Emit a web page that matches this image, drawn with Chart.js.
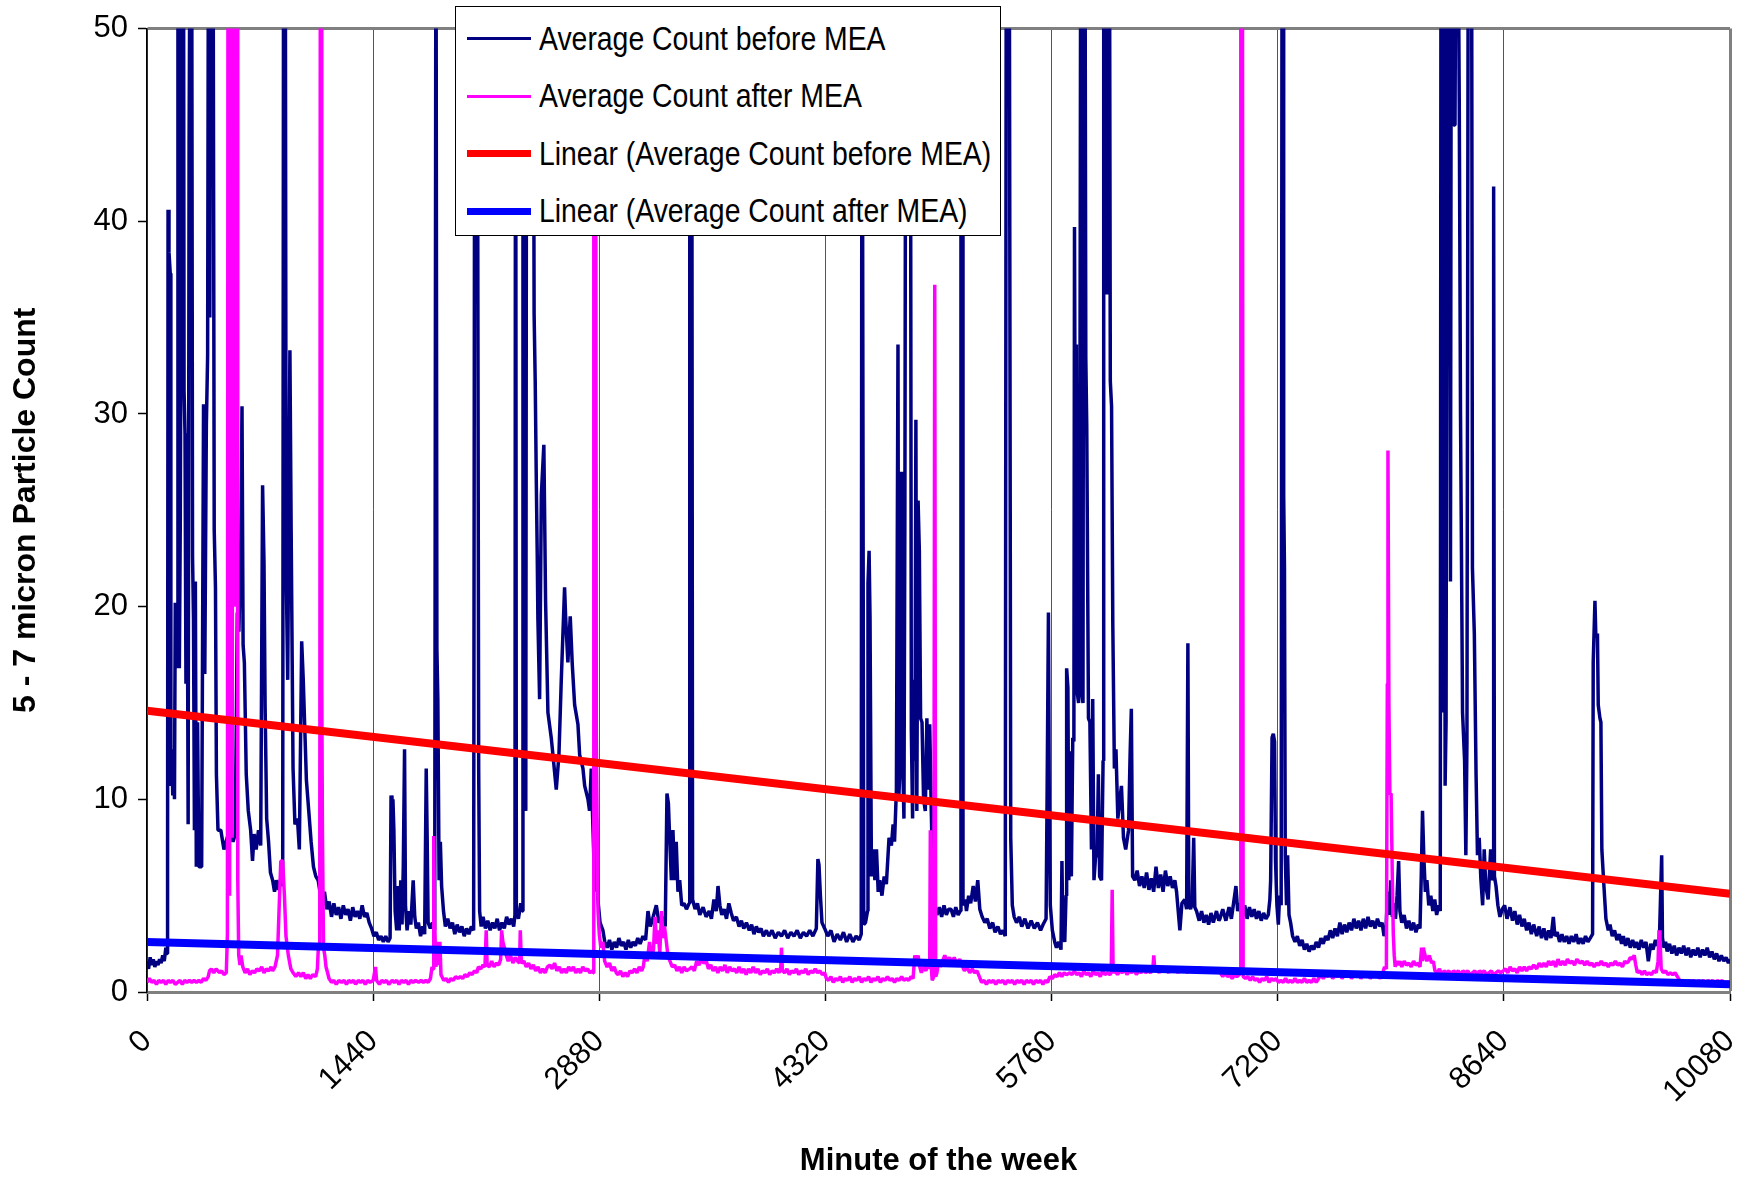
<!DOCTYPE html>
<html>
<head>
<meta charset="utf-8">
<script src="https://cdn.jsdelivr.net/npm/chart.js@4.4.1/dist/chart.umd.min.js"></script>
<style>
body { margin: 0; background: #fff; }
#wrap { position: relative; width: 1748px; height: 1182px; }
#legendBox {
  position: absolute; left: 455px; top: 6px; width: 546px; height: 230px;
  box-sizing: border-box; border: 1px solid #000; background: #fff; padding-top: 3px;
  font-family: "Liberation Sans", Arial, sans-serif;
  font-size: 33px; color: #000; overflow: hidden;
}
.row { display: flex; align-items: center; height: 57.5px; white-space: nowrap; }
.swatch { flex: 0 0 64px; margin-left: 11px; margin-right: 8px; }
.label { display: inline-block; transform: scaleX(0.86); transform-origin: left center; }
</style>
</head>
<body>
<div id="wrap">
  <canvas id="chart" width="1748" height="1182"></canvas>
  <div id="legendBox"></div>
</div>
<script>
// minute of the week, 0..10080, with x ticks every day
const xTicks = [0, 1440, 2880, 4320, 5760, 7200, 8640, 10080];
const yTicks = [0, 10, 20, 30, 40, 50];

const seriesNames = ["Average Count before MEA", "Average Count after MEA",
  "Linear (Average Count before MEA)", "Linear (Average Count after MEA)"];

// [minute, count]  (values above 50 run off the top of the plot)
const beforeMEA = [
  [0,1.6],[10,1.2],[20,1.8],[30,1.4],[40,1.7],[50,1.3],[60,1.6],[70,1.4],[80,1.7],[90,1.5],[100,1.9],[110,1.6],[120,2.3],[128,2.0],[131,6.0],[134,40.6],[140,38.4],[148,37.3],[152,10.7],[158,12.6],[164,10.2],[170,12.4],[175,10.0],[180,20.2],[186,16.8],[192,20.0],[197,60],[200,60],[206,16.8],[212,24.5],[226,60],[232,60],[236,31.2],[242,29.0],[248,16.0],[254,28.5],[262,8.7],[268,44.0],[276,60],[284,60],[290,22.6],[296,19.4],[302,8.4],[308,21.3],[314,6.5],[322,14.0],[330,6.5],[348,6.5],[360,30.5],[368,16.5],[378,29.4],[386,33.0],[392,60],[400,35.0],[406,60],[420,60],[428,24.0],[436,21.0],[442,11.3],[452,8.4],[470,8.4],[490,7.4],[510,8.0],[530,8.4],[548,7.8],[562,8.2],[575,19.7],[585,18.7],[598,23.6],[605,30.4],[612,18.0],[620,17.1],[632,11.3],[645,9.4],[660,8.4],[672,6.8],[682,8.2],[695,7.4],[710,8.4],[724,7.6],[736,26.3],[745,22.3],[752,14.9],[762,9.0],[774,7.8],[786,6.2],[800,5.8],[812,5.2],[824,5.8],[838,5.3],[852,5.9],[864,5.5],[870,60],[880,60],[886,22.0],[896,16.2],[910,33.3],[918,23.9],[930,11.6],[942,8.7],[958,9.0],[970,7.4],[985,18.2],[995,16.2],[1005,13.6],[1015,11.0],[1030,9.4],[1045,7.8],[1060,6.5],[1075,6.0],[1090,5.8],[1105,5.0],[1118,4.5],[1130,5.2],[1145,4.3],[1160,4.7],[1175,3.9],[1190,4.6],[1205,4.0],[1220,4.4],[1235,3.8],[1250,4.5],[1265,4.0],[1280,4.3],[1295,3.7],[1310,4.4],[1325,3.9],[1340,4.2],[1355,3.8],[1370,4.5],[1385,3.9],[1400,4.1],[1415,3.6],[1430,3.3],[1445,2.9],[1460,3.1],[1475,2.7],[1490,2.9],[1505,2.6],[1520,2.9],[1535,2.6],[1548,2.8],[1554,10.2],[1560,9.6],[1566,10.0],[1572,8.4],[1580,4.2],[1590,3.2],[1598,5.5],[1606,3.2],[1616,5.8],[1624,3.5],[1632,6.5],[1640,12.6],[1646,4.5],[1656,3.2],[1668,4.2],[1680,3.5],[1695,5.8],[1705,3.9],[1715,3.3],[1728,3.6],[1742,2.9],[1756,3.4],[1768,3.0],[1778,11.6],[1784,8.0],[1790,3.6],[1804,3.3],[1818,3.6],[1832,3.2],[1840,60],[1846,17.8],[1852,15.2],[1860,5.8],[1868,7.8],[1876,5.5],[1888,4.2],[1900,3.4],[1915,3.8],[1930,3.3],[1945,3.6],[1960,3.0],[1975,3.5],[1990,3.1],[2005,3.4],[2020,2.9],[2035,3.3],[2050,3.0],[2065,3.4],[2080,3.2],[2088,60],[2096,60],[2102,60],[2106,60],[2112,11.6],[2118,4.2],[2128,3.4],[2140,3.9],[2155,3.3],[2170,3.7],[2185,3.2],[2200,3.6],[2215,3.3],[2230,3.8],[2245,3.2],[2260,3.6],[2275,3.3],[2290,3.9],[2305,3.5],[2320,3.8],[2335,3.4],[2343,4.0],[2347,60],[2352,4.2],[2365,3.8],[2380,4.6],[2390,4.2],[2394,60],[2404,15.5],[2412,9.4],[2418,60],[2440,60],[2458,60],[2465,35.2],[2472,31.7],[2479,26.5],[2485,22.6],[2489,19.4],[2500,15.2],[2511,25.8],[2527,28.4],[2538,20.3],[2553,14.5],[2574,13.2],[2585,12.3],[2606,10.5],[2623,12.3],[2638,16.2],[2659,21.0],[2666,19.4],[2680,17.1],[2695,19.5],[2708,17.0],[2723,14.9],[2744,13.9],[2755,12.3],[2776,11.6],[2787,10.7],[2808,10.0],[2818,9.4],[2829,11.6],[2840,8.4],[2852,5.2],[2862,9.0],[2871,4.8],[2885,3.6],[2903,3.2],[2915,2.6],[2930,2.3],[2945,2.7],[2960,2.2],[2975,2.6],[2990,2.3],[3005,2.8],[3020,2.4],[3035,2.6],[3050,2.2],[3065,2.7],[3080,2.3],[3095,2.6],[3110,2.4],[3125,2.8],[3140,2.5],[3158,2.9],[3175,2.7],[3190,4.2],[3205,3.4],[3220,3.8],[3243,4.5],[3260,3.6],[3280,3.9],[3300,3.4],[3311,10.3],[3320,9.8],[3328,8.0],[3339,5.8],[3349,8.4],[3360,5.8],[3370,7.8],[3381,5.2],[3392,5.8],[3405,4.5],[3420,4.6],[3435,4.3],[3452,4.6],[3456,60],[3462,60],[3468,60],[3474,4.8],[3490,4.3],[3505,4.6],[3520,4.0],[3541,4.4],[3560,3.9],[3580,4.2],[3594,3.8],[3610,4.8],[3625,4.2],[3636,5.5],[3648,4.5],[3660,4.0],[3675,4.3],[3690,3.8],[3705,4.6],[3720,4.1],[3735,3.7],[3753,3.9],[3770,3.4],[3785,3.7],[3800,3.3],[3817,3.6],[3835,3.2],[3850,3.5],[3865,3.0],[3880,3.4],[3895,3.1],[3910,3.3],[3925,2.9],[3944,3.2],[3960,2.9],[3980,3.2],[4000,2.8],[4020,3.1],[4040,2.9],[4060,3.2],[4080,2.8],[4100,3.1],[4120,2.9],[4140,3.2],[4160,2.8],[4180,3.1],[4200,2.9],[4220,3.2],[4240,2.9],[4262,3.3],[4272,6.9],[4279,6.6],[4288,5.0],[4298,3.6],[4315,3.3],[4335,2.9],[4355,3.2],[4375,2.6],[4395,3.0],[4415,2.7],[4435,3.1],[4455,2.6],[4475,3.0],[4495,2.6],[4515,2.9],[4535,2.7],[4548,3.0],[4553,60],[4558,60],[4564,3.5],[4575,3.6],[4588,4.2],[4591,21.2],[4598,22.9],[4604,19.4],[4613,6.0],[4624,7.4],[4635,5.8],[4645,7.4],[4656,5.2],[4666,5.8],[4680,5.0],[4694,6.0],[4708,5.6],[4725,8.0],[4740,7.6],[4751,8.7],[4760,7.8],[4772,10.5],[4782,33.6],[4787,10.0],[4796,12.0],[4804,27.0],[4812,12.0],[4820,9.0],[4826,25.0],[4833,60],[4845,60],[4853,60],[4860,60],[4867,13.6],[4875,9.0],[4882,16.2],[4890,12.0],[4896,29.7],[4902,9.4],[4910,25.5],[4918,22.9],[4926,14.2],[4935,14.0],[4945,10.0],[4956,9.4],[4966,14.2],[4975,10.5],[4984,13.9],[4994,9.4],[5004,5.8],[5015,4.5],[5030,4.0],[5045,4.4],[5060,3.9],[5075,4.5],[5090,4.0],[5105,4.3],[5120,4.3],[5135,3.9],[5150,4.4],[5165,4.0],[5178,4.2],[5183,60],[5190,60],[5196,4.5],[5210,4.8],[5218,4.2],[5232,5.0],[5245,4.6],[5261,5.5],[5275,4.7],[5290,5.8],[5303,4.3],[5318,3.9],[5335,3.6],[5350,3.8],[5367,3.3],[5385,3.6],[5400,3.1],[5418,3.4],[5435,3.0],[5450,3.2],[5465,2.9],[5472,60],[5480,60],[5490,60],[5500,8.0],[5510,4.5],[5522,3.9],[5537,3.6],[5555,3.9],[5570,3.4],[5590,3.8],[5610,3.3],[5630,3.7],[5650,3.3],[5670,3.6],[5690,3.2],[5706,3.5],[5725,3.8],[5732,10.7],[5740,19.7],[5746,9.0],[5752,4.5],[5765,3.2],[5780,2.6],[5791,2.3],[5805,2.6],[5820,2.2],[5826,6.8],[5832,3.0],[5844,2.6],[5852,5.0],[5856,16.8],[5864,15.8],[5870,5.8],[5878,12.5],[5886,6.0],[5895,13.2],[5902,13.0],[5906,39.7],[5912,23.0],[5918,33.6],[5924,15.5],[5932,15.0],[5940,25.0],[5946,60],[5952,15.5],[5960,15.0],[5966,60],[5972,60],[5978,32.9],[5984,29.4],[5995,14.2],[6004,14.0],[6014,7.4],[6022,15.2],[6030,5.8],[6040,7.0],[6050,7.1],[6058,11.3],[6066,6.0],[6078,5.8],[6088,12.0],[6092,60],[6100,60],[6108,60],[6114,36.2],[6122,60],[6128,60],[6134,31.7],[6142,30.4],[6150,19.0],[6160,11.6],[6170,12.6],[6182,9.0],[6195,10.0],[6205,10.7],[6218,8.0],[6232,7.4],[6250,8.4],[6260,12.3],[6268,14.7],[6276,6.0],[6290,5.8],[6305,6.3],[6320,5.5],[6335,6.0],[6350,5.4],[6365,6.2],[6380,5.3],[6395,5.9],[6410,5.2],[6425,6.5],[6440,5.4],[6455,6.1],[6470,5.2],[6485,6.3],[6500,5.5],[6515,6.0],[6530,5.4],[6545,5.8],[6556,5.2],[6577,3.2],[6590,4.6],[6608,4.8],[6620,4.3],[6628,18.1],[6634,4.5],[6645,4.3],[6655,4.6],[6665,8.0],[6672,4.4],[6683,4.2],[6700,3.7],[6715,4.2],[6730,3.6],[6745,4.0],[6760,3.5],[6775,4.1],[6790,3.6],[6810,4.2],[6825,3.7],[6832,3.8],[6850,4.3],[6870,3.7],[6890,4.4],[6905,3.8],[6917,4.5],[6934,5.5],[6945,4.2],[6960,4.6],[6975,3.9],[6990,4.5],[7005,3.8],[7020,4.4],[7035,3.9],[7050,4.3],[7065,3.8],[7080,4.2],[7095,3.7],[7110,4.1],[7125,3.8],[7140,4.0],[7150,4.8],[7155,5.8],[7164,13.2],[7172,13.4],[7180,13.0],[7186,6.8],[7195,4.5],[7204,3.5],[7212,5.0],[7222,4.5],[7228,60],[7234,60],[7238,25.8],[7243,22.0],[7248,7.1],[7256,4.5],[7263,7.1],[7272,4.0],[7282,3.6],[7295,2.9],[7310,2.6],[7325,2.9],[7340,2.4],[7355,2.7],[7370,2.2],[7385,2.5],[7400,2.1],[7415,2.4],[7430,2.2],[7445,2.6],[7460,2.3],[7475,2.8],[7490,2.5],[7505,2.9],[7520,2.7],[7535,3.2],[7550,2.8],[7565,3.3],[7580,2.9],[7596,3.6],[7610,3.0],[7625,3.5],[7640,3.1],[7655,3.6],[7670,3.2],[7685,3.8],[7700,3.3],[7715,3.7],[7730,3.2],[7745,3.8],[7760,3.3],[7775,3.9],[7790,3.4],[7805,3.7],[7820,3.3],[7835,3.8],[7851,3.4],[7865,3.6],[7877,2.9],[7890,3.4],[7900,5.2],[7910,4.0],[7920,5.8],[7930,3.9],[7940,4.6],[7950,3.8],[7960,5.0],[7970,6.8],[7978,4.2],[7990,3.6],[8005,4.0],[8020,3.3],[8035,3.7],[8050,3.2],[8065,3.6],[8080,3.1],[8095,3.5],[8106,3.3],[8114,6.0],[8122,9.4],[8130,7.1],[8140,5.2],[8150,5.8],[8162,4.5],[8175,5.0],[8188,4.2],[8200,4.8],[8212,4.0],[8225,4.5],[8235,4.2],[8240,60],[8246,14.5],[8252,60],[8260,60],[8266,10.7],[8272,14.0],[8280,60],[8292,60],[8300,21.3],[8306,60],[8314,60],[8320,45.0],[8329,45.0],[8336,60],[8346,60],[8356,46.2],[8364,30.0],[8377,14.5],[8390,12.0],[8398,7.1],[8405,13.0],[8414,60],[8426,60],[8434,60],[8440,22.0],[8452,18.6],[8463,11.3],[8472,7.1],[8483,8.0],[8494,5.8],[8505,4.5],[8515,7.4],[8525,5.5],[8540,4.8],[8556,7.4],[8565,5.8],[8571,6.0],[8575,41.8],[8580,6.0],[8590,5.5],[8602,4.5],[8615,3.9],[8630,4.3],[8645,4.5],[8660,3.8],[8679,4.4],[8695,3.7],[8710,4.2],[8725,3.5],[8740,4.0],[8755,3.4],[8770,3.8],[8785,3.2],[8800,3.6],[8815,3.0],[8830,3.5],[8849,2.9],[8865,3.4],[8880,2.8],[8895,3.3],[8910,2.7],[8925,3.2],[8940,2.8],[8955,3.9],[8965,2.9],[8980,3.1],[8995,2.6],[9010,3.0],[9025,2.6],[9040,2.9],[9055,2.5],[9070,2.9],[9085,2.6],[9100,3.0],[9115,2.5],[9130,2.8],[9145,2.5],[9160,2.9],[9175,2.6],[9190,2.8],[9205,3.0],[9209,17.1],[9220,20.3],[9226,18.4],[9236,18.6],[9241,14.9],[9252,14.2],[9258,14.0],[9264,7.4],[9275,5.8],[9290,3.8],[9305,3.2],[9316,3.5],[9330,2.9],[9345,3.2],[9360,2.7],[9375,3.0],[9390,2.5],[9401,2.9],[9415,2.4],[9430,2.8],[9445,2.3],[9460,2.7],[9475,2.3],[9485,2.6],[9500,2.2],[9515,2.7],[9530,2.3],[9545,2.6],[9560,1.6],[9575,2.5],[9590,2.2],[9605,2.7],[9618,2.4],[9630,2.6],[9645,7.1],[9650,2.8],[9660,2.3],[9670,2.6],[9680,2.1],[9695,2.5],[9710,2.0],[9725,2.4],[9740,1.9],[9755,2.3],[9770,2.0],[9785,2.4],[9800,1.9],[9815,2.3],[9830,1.8],[9845,2.2],[9860,1.9],[9875,2.3],[9890,1.8],[9905,2.2],[9920,1.9],[9935,2.3],[9950,1.8],[9965,2.1],[9980,1.7],[9995,2.0],[10010,1.6],[10025,1.9],[10040,1.6],[10055,1.8],[10070,1.5],[10080,1.7]
];

const afterMEA = [
  [0,0.5],[15,0.7],[30,0.5],[45,0.6],[60,0.4],[75,0.6],[90,0.5],[105,0.6],[120,0.4],[135,0.6],[150,0.5],[165,0.6],[180,0.4],[195,0.5],[210,0.6],[225,0.4],[240,0.6],[255,0.5],[270,0.6],[285,0.5],[300,0.6],[315,0.5],[330,0.6],[345,0.5],[360,0.7],[375,0.6],[390,0.8],[398,1.1],[410,1.2],[425,1.0],[440,1.2],[461,1.0],[475,1.1],[490,0.9],[505,1.0],[512,3.0],[516,60],[522,60],[526,5.0],[530,60],[536,60],[542,8.0],[548,60],[556,60],[562,20.0],[568,60],[574,60],[578,5.8],[584,1.9],[592,1.4],[599,1.9],[610,1.3],[625,1.0],[640,1.2],[655,0.9],[670,1.1],[685,1.0],[700,1.2],[715,1.1],[730,1.3],[745,1.0],[760,1.2],[775,1.1],[790,1.3],[800,1.1],[815,1.3],[831,1.9],[842,4.5],[852,6.8],[864,6.8],[875,5.0],[885,2.9],[900,1.9],[916,1.2],[930,1.0],[948,0.8],[965,1.0],[980,0.8],[995,1.0],[1011,0.7],[1025,0.9],[1040,0.7],[1055,0.9],[1074,0.8],[1085,1.2],[1091,2.3],[1100,2.4],[1104,60],[1110,60],[1113,15.8],[1117,8.4],[1124,2.3],[1132,1.9],[1140,1.3],[1150,1.0],[1159,0.7],[1175,0.5],[1190,0.6],[1205,0.4],[1222,0.6],[1240,0.5],[1255,0.6],[1270,0.4],[1285,0.6],[1300,0.5],[1315,0.6],[1328,0.4],[1345,0.6],[1360,0.5],[1375,0.6],[1390,0.4],[1405,0.6],[1420,0.5],[1440,0.6],[1455,1.3],[1462,0.6],[1480,0.4],[1495,0.6],[1510,0.5],[1525,0.6],[1540,0.4],[1561,0.6],[1575,0.5],[1590,0.6],[1605,0.4],[1620,0.6],[1635,0.5],[1650,0.6],[1665,0.4],[1680,0.6],[1695,0.5],[1710,0.6],[1730,0.5],[1745,0.6],[1760,0.5],[1775,0.6],[1790,0.5],[1805,0.7],[1815,1.3],[1822,1.2],[1826,8.1],[1832,3.5],[1840,1.3],[1848,2.6],[1856,1.4],[1865,2.6],[1872,0.9],[1890,0.6],[1905,0.7],[1920,0.5],[1935,0.7],[1950,0.6],[1965,0.8],[1980,0.7],[1995,0.8],[2010,0.7],[2025,0.9],[2040,0.8],[2055,1.0],[2070,0.9],[2085,1.1],[2100,1.0],[2110,1.3],[2125,1.2],[2140,1.4],[2152,1.3],[2160,3.2],[2166,1.4],[2180,1.3],[2195,1.6],[2210,1.3],[2225,1.5],[2240,1.4],[2252,1.7],[2258,3.2],[2266,2.6],[2276,2.3],[2288,1.9],[2300,1.6],[2315,1.9],[2330,1.5],[2345,1.8],[2360,1.6],[2372,1.5],[2377,3.2],[2384,1.5],[2400,1.6],[2415,1.3],[2430,1.5],[2445,1.2],[2460,1.4],[2475,1.1],[2490,1.3],[2505,1.0],[2520,1.2],[2535,1.0],[2550,1.3],[2565,1.4],[2580,1.2],[2595,1.5],[2610,1.1],[2625,1.3],[2640,1.0],[2655,1.2],[2670,1.0],[2685,1.3],[2700,1.1],[2715,1.3],[2730,1.0],[2745,1.2],[2760,1.0],[2775,1.3],[2790,1.1],[2805,1.2],[2820,1.0],[2835,1.1],[2842,1.0],[2845,60],[2852,60],[2856,60],[2861,13.2],[2866,9.0],[2872,4.2],[2880,3.0],[2890,2.3],[2903,2.6],[2914,1.6],[2930,1.3],[2945,1.5],[2960,1.1],[2975,1.3],[2988,1.0],[3000,0.9],[3015,1.1],[3030,0.8],[3045,1.0],[3060,0.8],[3075,1.1],[3090,1.0],[3105,1.2],[3120,1.0],[3135,1.3],[3150,1.1],[3160,1.3],[3170,1.9],[3185,1.6],[3200,2.6],[3212,1.8],[3225,2.2],[3235,3.9],[3245,2.5],[3255,3.2],[3265,2.0],[3277,4.2],[3285,2.8],[3295,3.4],[3307,2.6],[3317,1.9],[3330,1.6],[3345,1.3],[3360,1.4],[3375,1.1],[3390,1.3],[3405,1.0],[3420,1.3],[3435,1.1],[3455,1.2],[3470,1.3],[3485,1.1],[3500,1.6],[3515,1.4],[3530,1.7],[3545,1.5],[3562,1.6],[3575,1.2],[3590,1.4],[3605,1.1],[3620,1.3],[3635,1.0],[3650,1.3],[3665,1.1],[3680,1.4],[3695,1.0],[3710,1.3],[3725,1.1],[3740,1.2],[3755,1.0],[3770,1.3],[3785,1.0],[3800,1.2],[3815,0.9],[3830,1.2],[3845,1.0],[3860,1.3],[3875,1.0],[3890,1.2],[3905,0.9],[3920,1.1],[3935,1.0],[3950,1.2],[3965,0.9],[3980,1.1],[3995,1.0],[4010,1.2],[4025,1.0],[4036,1.3],[4040,2.3],[4046,1.1],[4060,1.0],[4075,1.2],[4090,0.9],[4105,1.1],[4120,1.0],[4135,1.2],[4150,0.9],[4165,1.1],[4180,1.0],[4195,1.2],[4210,0.9],[4225,1.1],[4240,1.0],[4255,1.2],[4270,1.0],[4285,1.1],[4300,0.9],[4315,1.0],[4326,0.7],[4340,0.6],[4355,0.8],[4370,0.5],[4385,0.7],[4400,0.6],[4415,0.8],[4430,0.5],[4445,0.7],[4460,0.6],[4475,0.8],[4490,0.5],[4505,0.7],[4520,0.6],[4535,0.8],[4550,0.5],[4565,0.7],[4580,0.6],[4595,0.8],[4610,0.5],[4625,0.7],[4640,0.6],[4655,0.8],[4670,0.5],[4685,0.7],[4700,0.6],[4715,0.8],[4730,0.6],[4745,0.7],[4760,0.5],[4775,0.7],[4790,0.6],[4805,0.8],[4820,0.6],[4835,0.7],[4850,0.6],[4865,0.8],[4878,0.7],[4889,1.9],[4898,1.5],[4910,1.9],[4921,1.3],[4931,1.0],[4945,1.3],[4960,1.1],[4975,1.6],[4984,1.2],[4988,8.4],[4993,1.4],[5000,0.6],[5010,0.8],[5016,36.7],[5022,0.8],[5030,1.0],[5040,1.6],[5052,1.3],[5065,1.6],[5080,1.9],[5095,1.6],[5110,1.8],[5125,1.5],[5140,1.8],[5155,1.5],[5175,1.7],[5190,1.4],[5205,1.1],[5220,1.3],[5239,1.0],[5255,1.2],[5270,1.0],[5285,1.1],[5300,0.8],[5314,0.5],[5330,0.6],[5345,0.4],[5360,0.6],[5375,0.5],[5390,0.6],[5405,0.4],[5420,0.6],[5435,0.5],[5450,0.6],[5465,0.4],[5480,0.6],[5495,0.5],[5510,0.6],[5525,0.4],[5540,0.6],[5555,0.5],[5570,0.6],[5585,0.4],[5600,0.6],[5615,0.5],[5630,0.6],[5645,0.4],[5660,0.6],[5675,0.5],[5690,0.6],[5705,0.4],[5720,0.6],[5735,0.5],[5749,0.8],[5765,0.7],[5780,0.9],[5795,0.8],[5810,1.0],[5825,0.8],[5840,1.0],[5855,0.9],[5876,1.0],[5890,0.9],[5905,1.1],[5920,0.9],[5935,1.0],[5950,0.8],[5965,1.1],[5980,0.9],[5995,1.0],[6010,0.8],[6025,1.1],[6040,0.9],[6055,1.0],[6070,0.8],[6085,1.1],[6100,0.9],[6115,1.0],[6131,0.9],[6140,1.0],[6146,5.3],[6152,1.0],[6165,1.1],[6180,0.9],[6195,1.1],[6210,1.0],[6225,1.2],[6240,0.9],[6255,1.1],[6270,1.0],[6285,1.2],[6300,0.9],[6315,1.1],[6330,1.0],[6345,1.2],[6360,1.0],[6375,1.1],[6390,1.0],[6405,1.2],[6411,1.9],[6418,1.1],[6430,1.2],[6445,1.0],[6460,1.3],[6475,1.1],[6490,1.2],[6505,1.0],[6520,1.3],[6535,1.1],[6550,1.2],[6565,1.0],[6580,1.3],[6595,1.1],[6610,1.2],[6625,1.0],[6640,1.3],[6655,1.1],[6670,1.2],[6685,1.0],[6700,1.3],[6715,1.1],[6730,1.2],[6745,1.0],[6760,1.2],[6775,1.1],[6790,1.2],[6805,1.0],[6820,1.1],[6835,1.0],[6850,0.8],[6865,1.0],[6880,0.8],[6895,0.9],[6910,0.7],[6925,0.9],[6940,0.8],[6955,0.9],[6962,1.0],[6965,60],[6970,60],[6975,60],[6980,0.8],[6995,0.7],[7010,0.8],[7025,0.6],[7040,0.8],[7055,0.6],[7070,0.7],[7085,0.5],[7100,0.7],[7115,0.6],[7130,0.8],[7145,0.5],[7160,0.7],[7175,0.6],[7190,0.7],[7205,0.5],[7220,0.6],[7235,0.5],[7250,0.7],[7265,0.5],[7280,0.6],[7295,0.5],[7310,0.7],[7325,0.5],[7340,0.6],[7355,0.5],[7370,0.7],[7385,0.5],[7400,0.6],[7415,0.5],[7430,0.7],[7445,0.5],[7460,0.7],[7475,0.9],[7490,0.7],[7505,0.9],[7520,0.8],[7535,1.0],[7550,0.7],[7565,0.9],[7580,0.8],[7595,1.0],[7610,0.7],[7625,0.9],[7640,0.8],[7655,1.0],[7670,0.7],[7685,0.9],[7700,0.8],[7715,1.0],[7730,0.7],[7745,0.9],[7760,0.8],[7775,1.0],[7790,0.7],[7805,0.9],[7820,0.8],[7835,1.0],[7850,0.7],[7865,0.9],[7880,1.3],[7892,1.2],[7898,16.0],[7902,28.1],[7908,15.0],[7914,10.3],[7922,10.3],[7930,5.8],[7936,3.0],[7942,1.9],[7948,1.3],[7956,1.6],[7966,1.4],[7978,1.6],[7990,1.3],[8005,1.6],[8020,1.4],[8035,1.5],[8050,1.3],[8065,1.6],[8080,1.4],[8095,1.5],[8106,1.3],[8116,2.3],[8122,1.6],[8127,2.3],[8138,1.9],[8150,1.6],[8165,1.9],[8180,1.5],[8191,1.6],[8201,1.1],[8215,1.0],[8230,1.2],[8245,0.9],[8260,1.1],[8275,1.0],[8290,1.1],[8305,0.9],[8320,1.1],[8335,1.0],[8350,1.1],[8365,0.9],[8380,1.1],[8395,1.0],[8410,1.1],[8425,0.9],[8440,1.0],[8455,1.1],[8470,0.9],[8485,1.1],[8500,1.0],[8515,1.1],[8530,0.9],[8545,1.0],[8560,1.1],[8575,0.9],[8590,1.0],[8605,1.1],[8620,1.0],[8636,1.1],[8650,1.2],[8665,1.0],[8680,1.3],[8695,1.1],[8710,1.2],[8725,1.0],[8740,1.3],[8755,1.1],[8770,1.3],[8785,1.1],[8800,1.3],[8815,1.2],[8830,1.4],[8849,1.2],[8865,1.5],[8880,1.3],[8895,1.5],[8910,1.3],[8925,1.6],[8940,1.4],[8955,1.6],[8970,1.3],[8985,1.7],[9000,1.4],[9015,1.6],[9030,1.4],[9045,1.7],[9060,1.5],[9075,1.6],[9090,1.4],[9105,1.7],[9125,1.5],[9140,1.6],[9155,1.4],[9170,1.6],[9185,1.4],[9200,1.5],[9215,1.3],[9230,1.5],[9245,1.4],[9260,1.6],[9275,1.4],[9290,1.5],[9305,1.3],[9320,1.5],[9335,1.4],[9350,1.6],[9365,1.4],[9380,1.5],[9395,1.3],[9410,1.6],[9422,1.5],[9435,1.6],[9445,1.8],[9458,1.7],[9470,1.9],[9480,1.4],[9490,1.0],[9505,1.1],[9520,0.9],[9535,1.1],[9550,0.9],[9565,1.0],[9580,0.9],[9595,1.1],[9610,1.0],[9622,1.6],[9628,3.2],[9634,2.8],[9642,1.2],[9655,1.0],[9670,1.1],[9685,0.9],[9700,1.0],[9715,0.9],[9730,1.0],[9745,0.8],[9760,0.6],[9775,0.5],[9790,0.6],[9805,0.4],[9820,0.6],[9835,0.5],[9850,0.6],[9865,0.4],[9880,0.6],[9895,0.5],[9910,0.6],[9925,0.4],[9940,0.6],[9955,0.5],[9970,0.6],[9985,0.4],[10000,0.6],[10015,0.5],[10030,0.6],[10045,0.4],[10060,0.5],[10080,0.5]
];

// linear trend lines, read at both ends of the week
const trendMinutes = [0, 10080];
const trendBefore = [14.6, 5.1];
const trendAfter = [2.6, 0.4];

const seriesColors = ["#000080", "#FF00FF", "#FF0000", "#0000FF"];
const seriesWidths = [3.5, 3.5, 8, 8];

const tickFont = '"Liberation Sans Narrow", "Arial Narrow", "Liberation Sans", Arial, sans-serif';
const titleFont = '"Liberation Sans", Arial, sans-serif';

function toPoints(pairs) {
  return pairs.map(p => ({ x: p[0], y: p[1] }));
}
function trendPoints(vals) {
  return trendMinutes.map((m, i) => ({ x: m, y: vals[i] }));
}

const datasets = [
  { label: seriesNames[0], data: toPoints(beforeMEA), order: 4 },
  { label: seriesNames[1], data: toPoints(afterMEA), order: 3 },
  { label: seriesNames[2], data: trendPoints(trendBefore), order: 2 },
  { label: seriesNames[3], data: trendPoints(trendAfter), order: 1 }
];
datasets.forEach((d, i) => {
  d.borderColor = seriesColors[i];
  d.backgroundColor = seriesColors[i];
  d.borderWidth = seriesWidths[i];
  d.pointRadius = 0;
  d.tension = 0;
  d.fill = false;
  d.borderJoinStyle = "bevel";
});

const htmlLegend = {
  id: "htmlLegend",
  afterUpdate(chart) {
    const box = document.getElementById("legendBox");
    box.innerHTML = "";
    chart.data.datasets.forEach(ds => {
      const row = document.createElement("div");
      row.className = "row";
      const sw = document.createElement("span");
      sw.className = "swatch";
      sw.style.height = (ds.borderWidth < 5 ? 3 : 7) + "px";
      sw.style.background = ds.borderColor;
      const txt = document.createElement("span");
      txt.className = "label";
      txt.textContent = ds.label;
      row.appendChild(sw);
      row.appendChild(txt);
      box.appendChild(row);
    });
  }
};

new Chart(document.getElementById("chart"), {
  type: "line",
  data: { datasets: datasets },
  plugins: [htmlLegend],
  options: {
    responsive: false,
    animation: false,
    devicePixelRatio: 1,
    layout: { padding: { top: 28, right: 18, left: 0, bottom: 0 } },
    plugins: { legend: { display: false }, tooltip: { enabled: false } },
    scales: {
      x: {
        type: "linear",
        min: 0,
        max: 10080,
        afterBuildTicks: s => { s.ticks = xTicks.map(v => ({ value: v })); },
        afterFit: s => { s.height = 190; s.paddingRight = 0; s.paddingLeft = 0; },
        ticks: {
          maxRotation: 45, minRotation: 45, autoSkip: false,
          color: "#000", padding: 22,
          font: { family: tickFont, size: 31 },
          callback: v => String(v)
        },
        grid: {
          color: c => (c.tick && (c.tick.value === 10080) ? "#808080" : "#555"),
          lineWidth: c => (c.tick && c.tick.value === 10080 ? 3 : 1),
          tickColor: "#000", tickLength: 9, tickWidth: 1.5
        },
        border: { color: "#808080", width: 3 },
        title: {
          display: true, text: "Minute of the week", color: "#000",
          font: { family: titleFont, size: 31, weight: "bold" },
          padding: { top: 0, bottom: 2 }
        }
      },
      y: {
        min: 0,
        max: 50,
        afterBuildTicks: s => { s.ticks = yTicks.map(v => ({ value: v })); },
        afterFit: s => { s.width = 147; },
        ticks: {
          color: "#000", padding: 10,
          font: { family: tickFont, size: 31 }
        },
        grid: {
          color: c => (c.tick && c.tick.value === 50 ? "#808080" : "rgba(0,0,0,0)"),
          lineWidth: c => (c.tick && c.tick.value === 50 ? 3 : 1),
          tickColor: "#000", tickLength: 9, tickWidth: 1.5
        },
        border: { color: "#000", width: 1.5 },
        title: {
          display: true, text: "5 - 7 micron Particle Count", color: "#000",
          font: { family: titleFont, size: 32, weight: "bold" },
          padding: { top: 7, bottom: 0 }
        }
      }
    }
  }
});
</script>
</body>
</html>
